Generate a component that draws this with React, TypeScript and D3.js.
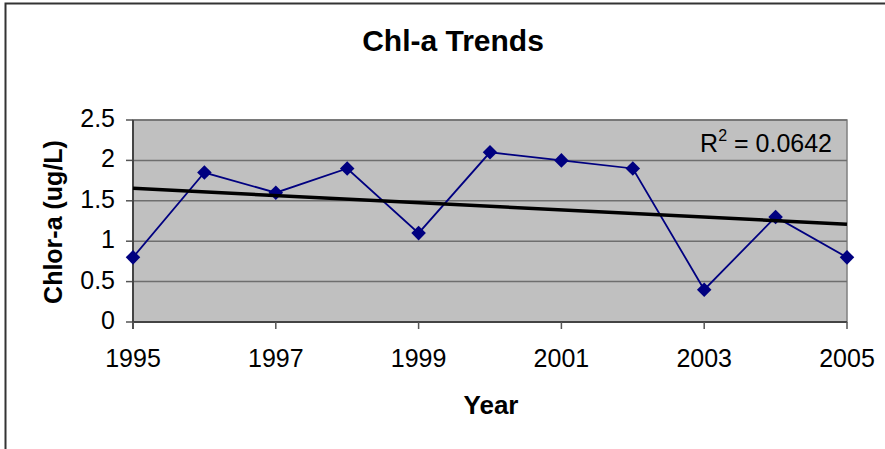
import * as d3 from "d3";

const years = [1995, 1996, 1997, 1998, 1999, 2000, 2001, 2002, 2003, 2004, 2005];
const chla = [0.8, 1.85, 1.6, 1.9, 1.1, 2.1, 2.0, 1.9, 0.4, 1.3, 0.8];
const xTicks = [1995, 1997, 1999, 2001, 2003, 2005];
const yTicks = [0, 0.5, 1, 1.5, 2, 2.5];
const r2Label = "0.0642";

const W = 885;
const H = 449;
const m = { left: 133, right: 847, top: 120, bottom: 322 };
const font = "Liberation Sans, Arial, sans-serif";

export default function App() {
  const x = d3.scaleLinear().domain([1995, 2005]).range([m.left, m.right]);
  const y = d3.scaleLinear().domain([0, 2.5]).range([m.bottom, m.top]);

  // least-squares trend through the data
  const mx = d3.mean(years)!;
  const my = d3.mean(chla)!;
  const slope =
    d3.sum(years, (yr, i) => (yr - mx) * (chla[i] - my)) /
    d3.sum(years, (yr) => (yr - mx) ** 2);
  const trend = (yr: number) => my + slope * (yr - mx);

  const line = d3
    .line<number>()
    .x((_, i) => x(years[i]))
    .y((v) => y(v));

  const diamond = d3.symbol(d3.symbolDiamond2, 135)();

  return (
    <svg
      width={W}
      height={H}
      style={{ position: "absolute", left: 0, top: 0, fontFamily: font }}
    >
      <rect x={0} y={0} width={W} height={H} fill="#fff" />
      <path d={`M5.5,${H} V3.5 H${W}`} fill="none" stroke="#333" strokeWidth={2} />

      <text x={453} y={51} textAnchor="middle" fontSize={30} fontWeight="bold">
        Chl-a Trends
      </text>

      <rect
        x={m.left}
        y={m.top}
        width={m.right - m.left}
        height={m.bottom - m.top}
        fill="#c0c0c0"
        stroke="#808080"
        strokeWidth={1.5}
      />
      {yTicks.map((t) => (
        <g key={t}>
          <line x1={m.left} x2={m.right} y1={y(t)} y2={y(t)} stroke="#6e6e6e" strokeWidth={1.5} />
          <line x1={m.left - 7} x2={m.left} y1={y(t)} y2={y(t)} stroke="#555" strokeWidth={1.5} />
          <text x={m.left - 18} y={y(t) + 7} textAnchor="end" fontSize={25}>
            {t}
          </text>
        </g>
      ))}
      <line x1={m.left} x2={m.left} y1={m.top} y2={m.bottom + 7} stroke="#444" strokeWidth={2} />
      <line x1={m.left} x2={m.right} y1={m.bottom} y2={m.bottom} stroke="#444" strokeWidth={2} />
      {xTicks.map((t) => (
        <g key={t}>
          <line x1={x(t)} x2={x(t)} y1={m.bottom} y2={m.bottom + 7} stroke="#555" strokeWidth={1.5} />
          <text x={x(t)} y={367} textAnchor="middle" fontSize={25}>
            {t}
          </text>
        </g>
      ))}

      <path d={line(chla) ?? ""} fill="none" stroke="#000080" strokeWidth={1.8} />
      {chla.map((v, i) => (
        <path
          key={years[i]}
          d={diamond ?? ""}
          transform={`translate(${x(years[i])},${y(v)})`}
          fill="#000080"
        />
      ))}
      <line
        x1={x(1995)}
        x2={x(2005)}
        y1={y(trend(1995))}
        y2={y(trend(2005))}
        stroke="#000"
        strokeWidth={3.5}
      />

      <text x={832} y={152} textAnchor="end" fontSize={25}>
        R<tspan dy={-11} fontSize={16}>2</tspan>
        <tspan dy={11}> = {r2Label}</tspan>
      </text>

      <text x={491} y={414} textAnchor="middle" fontSize={26} fontWeight="bold">
        Year
      </text>
      <text
        transform={`translate(62,222) rotate(-90)`}
        textAnchor="middle"
        fontSize={25}
        fontWeight="bold"
      >
        Chlor-a (ug/L)
      </text>
    </svg>
  );
}
